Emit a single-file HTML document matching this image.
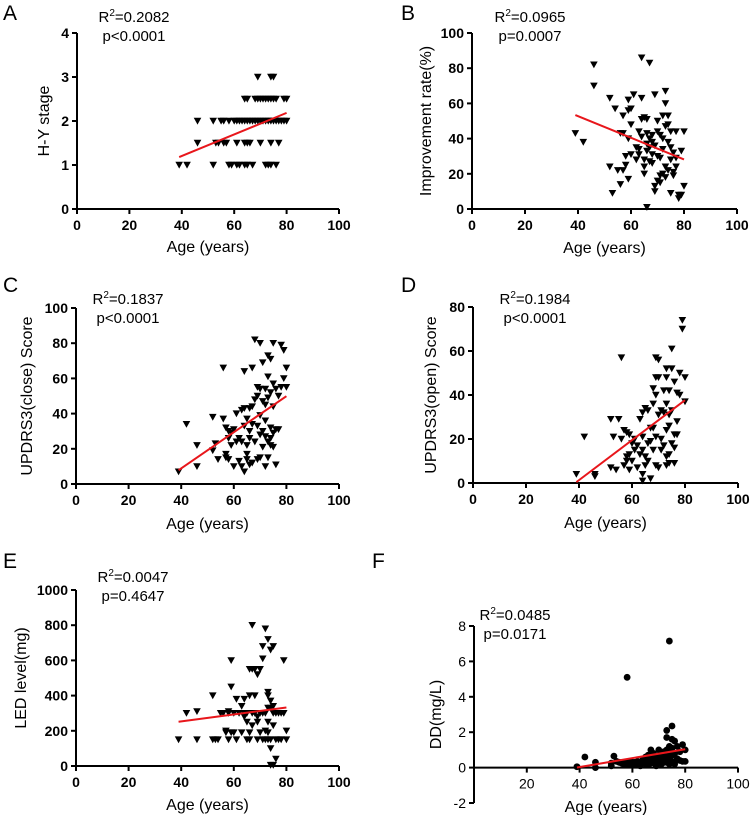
<!DOCTYPE html>
<html><head><meta charset="utf-8"><style>
body{margin:0;background:#fff}
svg{display:block;font-family:"Liberation Sans",Arial,sans-serif}
</style></head><body>
<svg id="fig" width="750" height="815" viewBox="0 0 750 815"></svg>
<script>
// ===== data =====
const hyAge=[39,42,52,58,59,61,62,64,65,67,72,73,74,76, 46,53,54,56,57,61,64,65,66,70,74,77, 46,52,55,56,58,60,61,62,63,64,65,66,67,68,69,70,71,72,73,74,75,76,77,78,79,80, 64,65,68,69,70,71,72,73,74,75,76,79,80, 69,74,75];
const hyVal=[1,1,1,1,1,1,1,1,1,1,1,1,1,1, 1.5,1.5,1.5,1.5,1.5,1.5,1.5,1.5,1.5,1.5,1.5,1.5, 2,2,2,2,2,2,2,2,2,2,2,2,2,2,2,2,2,2,2,2,2,2,2,2,2,2, 2.5,2.5,2.5,2.5,2.5,2.5,2.5,2.5,2.5,2.5,2.5,2.5,2.5, 3,3,3];
const impAge=[39,42,46,46,52,53,52,54,55,56,56,57,57,57,58,58,59,59,59,59,60,60,60,61,62,62,63,63,64,64,64,64,65,65,65,65,66,66,66,66,67,67,67,67,68,68,68,69,69,69,69,70,70,70,70,71,71,71,72,72,72,73,73,73,73,73,74,74,74,74,75,75,75,76,76,76,77,77,77,78,78,79,79,80,80,72,68,63,66,71,75];
const impVal=[43,38,82,70,63,9,24,57,22,14,43,43,22,53,30,25,56,40,62,17,57,48,31,65,35,28,34,31,86,63,51,41,52,28,20,24,51,1,43,37,83,40,27,35,42,26,38,65,36,13,10,50,44,30,16,29,42,15,53,34,20,67,60,47,18,24,53,38,22,48,44,28,9,32,21,19,44,29,24,8,6,33,8,44,13,40,31,44,33,19,35];
const ucAge=[39,42,46,46,52,52,53,54,56,56,57,57,57,58,58,58,59,59,60,60,61,61,62,62,63,63,63,64,64,64,64,65,65,65,65,66,66,66,67,67,67,67,68,68,68,69,69,69,69,70,70,70,70,71,71,71,71,72,72,72,72,73,73,73,73,73,74,74,74,74,75,75,75,75,75,76,76,76,77,77,78,78,79,79,80,80,72,70,66,74];
const ucVal=[7,34,22,10,38,19,23,14,37,66,32,15,17,30,26,14,29,22,10,31,24,40,26,13,42,10,24,64,43,7,33,17,37,22,14,43,30,11,66,44,12,34,82,48,24,55,33,14,50,80,54,39,15,69,47,30,21,54,36,10,27,73,61,49,24,15,71,52,32,22,80,57,44,29,21,54,11,31,50,31,79,55,76,60,66,55,45,28,26,26];
const uoAge=[39,42,46,46,52,52,53,54,55,56,56,57,57,58,58,58,59,59,59,60,60,61,61,62,62,63,63,64,64,64,64,64,65,65,65,66,66,66,67,67,67,68,68,68,68,69,69,69,69,69,70,70,70,70,71,71,71,72,72,72,73,73,73,73,73,73,74,74,74,74,74,75,75,75,75,76,76,76,76,77,77,77,78,78,79,79,80,80];
const uoVal=[4,21,4,3,29,7,21,6,29,57,20,24,8,23,12,10,22,6,13,18,10,20,15,17,7,29,13,32,21,4,1,15,34,12,8,33,18,10,25,2,19,43,25,36,15,57,48,40,21,8,56,48,31,7,33,20,15,42,32,17,52,48,36,24,12,8,42,31,26,13,9,61,52,33,18,46,22,16,9,41,28,22,50,40,70,74,48,37];
const ledAge=[39,42,46,46,52,52,53,54,55,56,57,57,58,58,58,59,59,59,60,60,61,61,62,63,63,64,64,64,65,65,65,66,66,66,66,67,67,67,67,68,68,68,69,69,69,69,70,70,70,71,71,71,71,72,72,72,72,73,73,73,73,73,73,73,74,74,74,74,74,74,75,75,75,75,75,76,76,76,77,77,78,78,79,79,80,80];
const ledVal=[150,300,310,150,400,150,150,150,300,300,190,200,300,310,150,600,450,190,300,190,380,150,300,340,190,380,300,280,250,150,300,550,400,190,150,800,550,300,230,550,400,300,520,280,250,150,550,300,190,680,610,300,150,780,300,200,150,720,420,400,330,250,190,150,660,370,330,100,150,5,680,340,300,230,5,40,300,150,300,150,300,150,600,300,200,150];
const ddAge=[39,42,46,46,52,52,53,54,55,56,57,57,58,58,59,59,60,60,61,61,62,62,63,63,64,64,65,65,65,66,66,66,67,67,67,68,68,68,69,69,69,70,70,70,71,71,71,72,72,72,73,73,73,73,73,74,74,74,74,74,75,75,75,75,75,76,76,76,77,77,78,78,79,79,80,80];
const ddVal=[0.05,0.6,0.3,0,0.1,0.25,0.65,0.35,0.3,0.25,0.15,0.3,5.1,0.2,0.35,0.15,0.3,0.2,0.3,0.15,0.35,0.2,0.25,0.1,0.3,0.45,0.4,0.2,0.6,0.7,0.35,0.15,1.0,0.5,0.25,0.8,0.45,0.3,0.6,0.35,0.1,1.0,0.5,0.3,0.7,0.4,0.2,0.9,0.55,0.3,2.1,1.7,1.0,0.6,0.3,7.15,1.2,0.9,0.5,0.2,2.35,1.6,1.1,0.7,0.35,1.5,0.8,0.2,1.2,0.5,0.9,0.4,1.3,0.35,1.0,0.35];
const xTicks=[0,20,40,60,80,100];
const xTicksF=[20,40,60,80,100];
const yTicksA=[0,1,2,3,4];
const yTicksB=[0,20,40,60,80,100];
const yTicksC=[0,20,40,60,80,100];
const yTicksD=[0,20,40,60,80];
const yTicksE=[0,200,400,600,800,1000];
const yTicksF=[-2,0,2,4,6,8];

// ===== rendering =====
const NS='http://www.w3.org/2000/svg';
const svg=document.getElementById('fig');
function mk(tag,attrs,parent,text){const e=document.createElementNS(NS,tag);for(const k in attrs)e.setAttribute(k,attrs[k]);if(text!==undefined)e.textContent=text;(parent||svg).appendChild(e);return e;}

function panel(c){
  const g=mk('g',{});
  
  
  const sx=v=>c.x0+(v-0)*(c.x1-c.x0)/100;
  const sy=v=>c.yb+(v-c.ymin)*(c.yt-c.yb)/(c.ymax-c.ymin);
  const fw=c.bold?'bold':'normal';
  const lt=mk('text',{x:c.lx,y:c.ly,'font-size':21},g,c.id);
  
  const yl=mk('line',{x1:c.x0,y1:sy(c.ymin),x2:c.x0,y2:sy(c.ymax),stroke:'#000','stroke-width':2},g);
  
  const xAxY=sy(c.xAxisAt);
  const xl=mk('line',{x1:c.x0-1,y1:xAxY,x2:c.x1,y2:xAxY,stroke:'#000','stroke-width':2},g);
  
  c.yTicks.forEach(t=>{
    mk('line',{x1:c.x0-5,y1:sy(t),x2:c.x0,y2:sy(t),stroke:'#000','stroke-width':2},g);
    const tl=mk('text',{x:c.x0-8,y:sy(t)+5,'font-size':14,'font-weight':fw,'text-anchor':'end'},g,String(t));
    
  });
  c.xTicks.forEach(t=>{
    mk('line',{x1:sx(t),y1:xAxY,x2:sx(t),y2:xAxY+5,stroke:'#000','stroke-width':2},g);
    const tl=mk('text',{x:sx(t),y:xAxY+21,'font-size':14,'font-weight':fw,'text-anchor':'middle'},g,String(t));
    
  });
  const xt=mk('text',{x:(c.x0+c.x1)/2,y:c.xtY,'font-size':16,'text-anchor':'middle'},g,'Age (years)');
  
  const yt=mk('text',{x:0,y:0,'font-size':16,'text-anchor':'middle',transform:`translate(${c.ytX},${(sy(c.ymin)+sy(c.ymax))/2}) rotate(-90)`},g,c.ytitle);
  
  const r=mk('text',{x:c.sX,y:c.sY,'font-size':15,'text-anchor':'middle'},g);
  
  mk('tspan',{},r,'R');mk('tspan',{dy:-6,'font-size':10},r,'2');mk('tspan',{dy:6},r,'='+c.r2);
  const p=mk('text',{x:c.sX,y:c.sY+19,'font-size':15,'text-anchor':'middle'},g,c.p);
  
  c.xs.forEach((a,i)=>{
    const px=sx(a),py=sy(c.ys[i]);let m;
    if(c.dot){m=mk('circle',{cx:px,cy:py,r:3.4,fill:'#000'},g);}
    else{m=mk('path',{d:`M${px-3.8},${py-3.2}L${px+3.8},${py-3.2}L${px},${py+3.6}Z`,fill:'#000'},g);}
    
    
  });
  const n=c.xs.length;let mx=0,my=0;c.xs.forEach((a,i)=>{mx+=a;my+=c.ys[i];});mx/=n;my/=n;
  let sxy=0,sxx=0;c.xs.forEach((a,i)=>{sxy+=(a-mx)*(c.ys[i]-my);sxx+=(a-mx)*(a-mx);});
  const b=sxy/sxx,a0=my-b*mx;const xa=Math.min(...c.xs),xb=Math.max(...c.xs);
  const rl=mk('line',{x1:sx(xa),y1:sy(a0+b*xa),x2:sx(xb),y2:sy(a0+b*xb),stroke:'#e8161b','stroke-width':2},g);
  
}
panel({id:'A',lx:3,ly:20,x0:77,x1:339,yb:209,yt:33,ymin:0,ymax:4,xAxisAt:0,yTicks:yTicksA,xTicks:xTicks,bold:true,xtY:252,ytX:49,ytitle:'H-Y stage',sX:134,sY:22,r2:'0.2082',p:'p<0.0001',xs:hyAge,ys:hyVal});
panel({id:'B',lx:401,ly:20,x0:472,x1:737,yb:209,yt:33,ymin:0,ymax:100,xAxisAt:0,yTicks:yTicksB,xTicks:xTicks,bold:true,xtY:253,ytX:431,ytitle:'Improvement rate(%)',sX:530,sY:22,r2:'0.0965',p:'p=0.0007',xs:impAge,ys:impVal});
panel({id:'C',lx:3,ly:292,x0:76,x1:339,yb:484,yt:308,ymin:0,ymax:100,xAxisAt:0,yTicks:yTicksC,xTicks:xTicks,bold:true,xtY:529,ytX:32,ytitle:'UPDRS3(close) Score',sX:128,sY:304,r2:'0.1837',p:'p<0.0001',xs:ucAge,ys:ucVal});
panel({id:'D',lx:401,ly:292,x0:473,x1:738,yb:483,yt:307,ymin:0,ymax:80,xAxisAt:0,yTicks:yTicksD,xTicks:xTicks,bold:true,xtY:528,ytX:436,ytitle:'UPDRS3(open) Score',sX:535,sY:304,r2:'0.1984',p:'p<0.0001',xs:uoAge,ys:uoVal});
panel({id:'E',lx:3,ly:568,x0:76,x1:339,yb:766,yt:590,ymin:0,ymax:1000,xAxisAt:0,yTicks:yTicksE,xTicks:xTicks,bold:true,xtY:810,ytX:26,ytitle:'LED level(mg)',sX:133,sY:582,r2:'0.0047',p:'p=0.4647',xs:ledAge,ys:ledVal});
panel({id:'F',lx:372,ly:568,x0:474,x1:738,yb:803,yt:626,ymin:-2,ymax:8,xAxisAt:0,yTicks:yTicksF,xTicks:xTicksF,bold:false,dot:true,xtY:812,ytX:441,ytitle:'DD(mg/L)',sX:515,sY:620,r2:'0.0485',p:'p=0.0171',xs:ddAge,ys:ddVal});
</script>
</body></html>
